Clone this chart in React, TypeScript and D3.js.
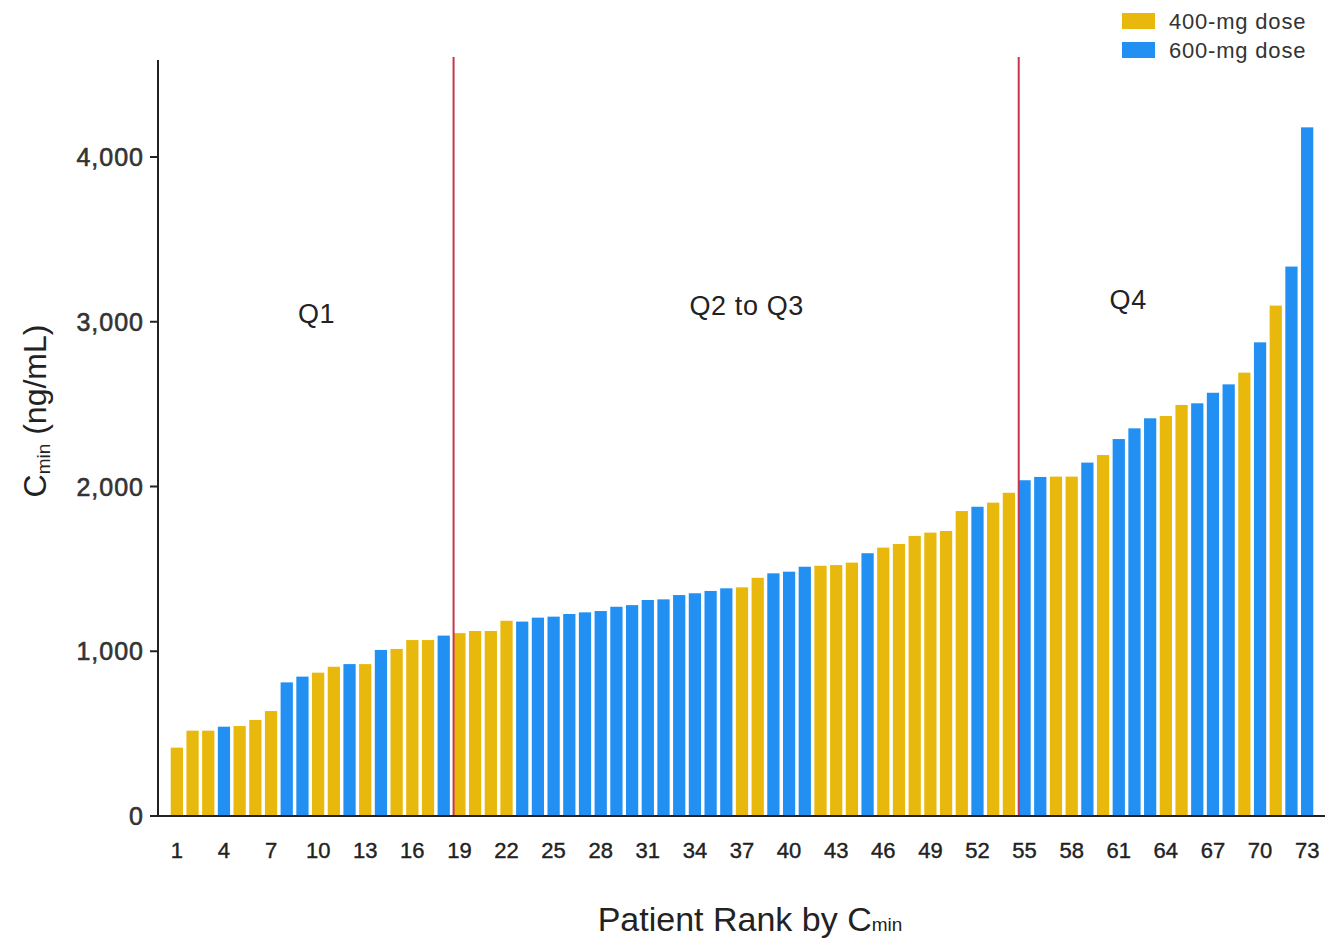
import * as d3 from "d3";
import React from "react";

// patient rank 1..73 sorted by Cmin
const ranks = d3.range(1, 74);
const cmin = [
  415, 518, 518, 542, 546, 583, 637, 811, 846, 870, 906, 922, 922, 1008, 1014, 1068, 1068, 1095,
  1110, 1123, 1123, 1185, 1180, 1204, 1210, 1226, 1236, 1244, 1270, 1280, 1311, 1315, 1341, 1352,
  1366, 1382, 1388, 1446, 1473, 1483, 1513, 1519, 1523, 1538, 1595, 1629, 1651, 1700, 1720, 1730,
  1851, 1877, 1902, 1962, 2038, 2058, 2060, 2060, 2145, 2191, 2288, 2353, 2414, 2428, 2495, 2505,
  2569, 2620, 2691, 2875, 3098, 3335, 4180,
];
const dose = [
  400, 400, 400, 600, 400, 400, 400, 600, 600, 400, 400, 600, 400, 600, 400, 400, 400, 600,
  400, 400, 400, 400, 600, 600, 600, 600, 600, 600, 600, 600, 600, 600, 600, 600,
  600, 600, 400, 400, 600, 600, 600, 400, 400, 400, 600, 400, 400, 400, 400, 400,
  400, 600, 400, 400, 600, 600, 400, 400, 600, 400, 600, 600, 600, 400, 400, 600,
  600, 600, 400, 600, 400, 600, 600,
];
const yTicks = [0, 1000, 2000, 3000, 4000];
const xTicks = d3.range(1, 74, 3);
// quartile cut points (between these ranks)
const cuts = [18, 54];
const quartileLabels = [
  { text: "Q1", rank: 9.9, value: 2995 },
  { text: "Q2 to Q3", rank: 37.3, value: 3040 },
  { text: "Q4", rank: 61.6, value: 3075 },
];
const legend = [
  { dose: 400, label: "400-mg dose" },
  { dose: 600, label: "600-mg dose" },
];

const W = 1342;
const H = 944;
const gold = "#e8b90c";
const blue = "#2190f2";
const red = "#c9354f";
const ink = "#222";
const font = "'Liberation Sans', Arial, Helvetica, sans-serif";

export default function App() {
  const axisX = 158;
  const x = d3
    .scaleBand<number>()
    .domain(ranks)
    .range([169, 1315])
    .paddingInner(0.22)
    .paddingOuter(0.11);
  const y = d3.scaleLinear().domain([0, 4000]).range([816, 157]);
  const colorOf = (d: number) => (d === 400 ? gold : blue);
  const cx = (r: number) => x(Math.floor(r))! + x.bandwidth() / 2 + (r % 1) * x.step();

  return (
    <svg
      width={W}
      height={H}
      style={{ position: "absolute", left: 0, top: 0, background: "#fff" }}
      fontFamily={font}
    >
      {/* bars */}
      {ranks.map((r, i) => (
        <rect
          key={r}
          x={x(r)}
          y={y(cmin[i])}
          width={x.bandwidth()}
          height={y(0) - y(cmin[i])}
          fill={colorOf(dose[i])}
        />
      ))}

      {/* quartile separators */}
      {cuts.map((c) => {
        const lx = (x(c)! + x.bandwidth() + x(c + 1)!) / 2 + 2;
        return <line key={c} x1={lx} x2={lx} y1={57} y2={y(0)} stroke={red} strokeWidth={2} />;
      })}
      {quartileLabels.map((q) => (
        <text
          key={q.text}
          x={cx(q.rank)}
          y={y(q.value)}
          textAnchor="middle"
          fontSize={27}
          letterSpacing={0.6}
          fill={ink}
        >
          {q.text}
        </text>
      ))}

      {/* axes */}
      <line x1={axisX} x2={axisX} y1={60} y2={y(0)} stroke={ink} strokeWidth={2} />
      <line x1={axisX - 1} x2={1325} y1={y(0)} y2={y(0)} stroke={ink} strokeWidth={2} />
      {yTicks.map((t) => (
        <g key={t}>
          <line x1={axisX - 8} x2={axisX} y1={y(t)} y2={y(t)} stroke={ink} strokeWidth={2} />
          <text
            x={axisX - 14}
            y={y(t)}
            dy="0.36em"
            textAnchor="end"
            fontSize={25}
            letterSpacing={1}
            fill="#333"
            stroke="#333"
            strokeWidth={0.6}
          >
            {d3.format(",")(t)}
          </text>
        </g>
      ))}
      {xTicks.map((t) => (
        <text
          key={t}
          x={cx(t)}
          y={858}
          textAnchor="middle"
          fontSize={22}
          fill={ink}
          stroke={ink}
          strokeWidth={0.4}
        >
          {t}
        </text>
      ))}

      {/* axis titles */}
      <text x={750} y={931} textAnchor="middle" fontSize={34} fill={ink}>
        Patient Rank by C
        <tspan fontSize={19}>min</tspan>
      </text>
      <text transform="translate(46,411) rotate(-90)" textAnchor="middle" fontSize={32} fill={ink}>
        C
        <tspan fontSize={19} dy={4}>min</tspan>
        <tspan dy={-4}> (ng/mL)</tspan>
      </text>

      {/* legend */}
      {legend.map((l, i) => (
        <g key={l.dose} transform={`translate(1122,${13 + i * 29})`}>
          <rect width={33} height={16} fill={colorOf(l.dose)} />
          <text x={47} y={8} dy="0.36em" fontSize={22} letterSpacing={0.8} fill="#333">
            {l.label}
          </text>
        </g>
      ))}
    </svg>
  );
}
